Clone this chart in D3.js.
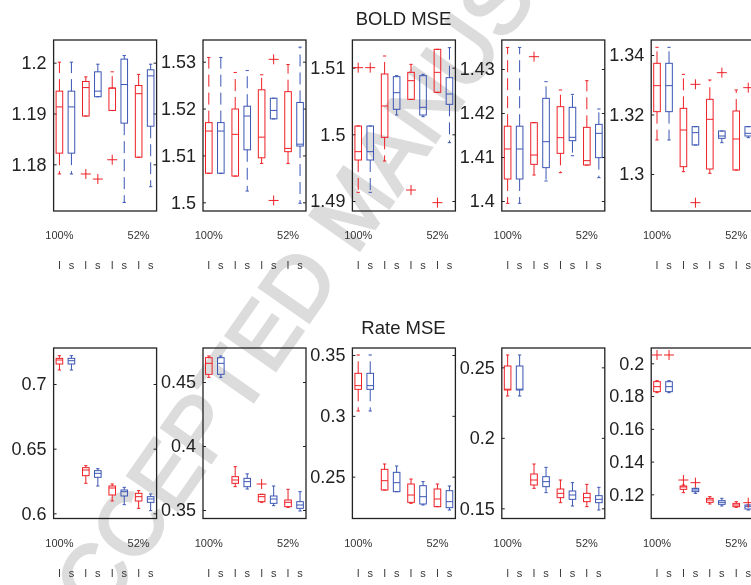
<!DOCTYPE html>
<html><head><meta charset="utf-8">
<script src="https://cdn.jsdelivr.net/npm/d3@7"></script>
<style>body{margin:0;background:#fff}svg{display:block;will-change:transform}</style>
</head><body>
<svg id="chart" width="751" height="585"></svg>
<script>
// ---------------- data ----------------
const groupLabels = ["l","s","l","s","l","s","l","s"];
const positions   = [1, 1.455, 2, 2.455, 3, 3.455, 4, 4.455];
const pctLabels   = [{text:"100%", box:0}, {text:"52%", box:6}];
const rowTitles   = ["BOLD MSE", "Rate MSE"];

const boldTicks = [[1.18,1.19,1.2],[1.5,1.51,1.52,1.53],[1.49,1.5,1.51],[1.4,1.41,1.42,1.43],[1.3,1.32,1.34]];
const rateTicks = [[0.6,0.65,0.7],[0.35,0.4,0.45],[0.25,0.3,0.35],[0.15,0.2,0.25],[0.12,0.14,0.16,0.18,0.2]];
const boldLimits = [[1.17082,1.20446],[1.49815,1.53462],[1.4885,1.51415],[1.39773,1.43659],[1.28756,1.34504]];
const rateLimits = [[0.596,0.72784],[0.34336,0.47656],[0.21562,0.35575],[0.14279,0.26371],[0.10524,0.20936]];

// each box: [lower whisker, q1, median, q3, upper whisker]
const boldBoxes1 = [[1.1781,1.1822,1.1913,1.1944,1.2001],[1.1781,1.1822,1.1913,1.1944,1.2001],[1.1895,1.1895,1.1951,1.1963,1.1972],[1.1933,1.1933,1.1944,1.1982,1.1997],[1.1906,1.1906,1.1950,1.1950,1.1982],[1.1725,1.1881,1.1957,1.2007,1.2014],[1.1814,1.1814,1.1939,1.1955,1.1977],[1.1756,1.1875,1.1974,1.1986,1.1997]];
const boldBoxes2 = [[1.5062,1.5062,1.5152,1.5170,1.5309],[1.5062,1.5062,1.5152,1.5170,1.5309],[1.5056,1.5056,1.5145,1.5199,1.5277],[1.5024,1.5112,1.5184,1.5205,1.5281],[1.5083,1.5095,1.5139,1.5240,1.5272],[1.5178,1.5178,1.5196,1.5222,1.5222],[1.5083,1.5108,1.5115,1.5236,1.5294],[1.4998,1.5120,1.5124,1.5213,1.5331]];
const boldBoxes3 = [[1.4913,1.49615,1.4974,1.50125,1.50125],[1.4913,1.49615,1.4974,1.50125,1.50125],[1.496,1.49955,1.50425,1.50905,1.51175],[1.5029,1.50375,1.50625,1.50865,1.5088],[1.50525,1.50525,1.50805,1.5093,1.5105],[1.50265,1.5029,1.50405,1.5088,1.509],[1.5063,1.5063,1.5093,1.51275,1.51275],[1.49875,1.5045,1.50605,1.5085,1.513]];
const boldBoxes4 = [[1.39947,1.405,1.41182,1.417,1.4349],[1.39947,1.405,1.41182,1.417,1.4349],[1.4059,1.40833,1.41045,1.4178,1.4178],[1.40455,1.40758,1.41348,1.42333,1.42712],[1.40644,1.41083,1.4144,1.42144,1.42523],[1.4103,1.41371,1.41447,1.42129,1.42424],[1.40818,1.40818,1.40917,1.41674,1.42735],[1.4053,1.40985,1.41538,1.41742,1.42091]];
const boldBoxes5 = [[1.31143,1.32095,1.32969,1.3372,1.34258],[1.31143,1.32095,1.32969,1.3372,1.34258],[1.30078,1.30246,1.31479,1.32207,1.3335],[1.30975,1.30975,1.31389,1.31591,1.31591],[1.30022,1.30168,1.31838,1.3251,1.3316],[1.31053,1.31199,1.31277,1.31445,1.31445],[1.30134,1.30134,1.31176,1.32118,1.32824],[1.3122,1.31277,1.31367,1.31591,1.31591]];

const rateBoxes1 = [[0.71082,0.71546,0.71856,0.71985,0.72191],[0.71082,0.71546,0.71804,0.71985,0.72191],[0.6232,0.62912,0.6335,0.63531,0.63686],[0.62113,0.62784,0.63093,0.63299,0.63454],[0.60954,0.61418,0.61958,0.62113,0.62268],[0.6067,0.6134,0.61675,0.61804,0.6201],[0.60387,0.60954,0.61289,0.61546,0.61753],[0.60206,0.6085,0.61108,0.61289,0.61495]];
const rateBoxes2 = [[0.45365,0.45599,0.46458,0.46901,0.47031],[0.45365,0.45599,0.46458,0.46901,0.47031],[0.36823,0.37083,0.37344,0.37604,0.38385],[0.3664,0.36823,0.37214,0.37474,0.37823],[0.356,0.3565,0.3604,0.36224,0.36224],[0.35339,0.35521,0.35859,0.36094,0.36875],[0.35208,0.3526,0.35599,0.35781,0.36615],[0.34922,0.3513,0.35391,0.35651,0.36432]];
const rateBoxes3 = [[0.30397,0.32178,0.32479,0.33493,0.35],[0.30397,0.32178,0.32479,0.33493,0.35],[0.23904,0.23904,0.24671,0.25603,0.26041],[0.23767,0.23767,0.24507,0.25356,0.25877],[0.22808,0.2289,0.23493,0.24397,0.24808],[0.22671,0.22753,0.23356,0.2426,0.24589],[0.22534,0.22534,0.23164,0.23986,0.24397],[0.2226,0.22452,0.22945,0.23849,0.24233]];
const rateBoxes4 = [[0.22967,0.23392,0.2345,0.25095,0.25875],[0.22967,0.23392,0.2345,0.25095,0.25875],[0.16418,0.16655,0.17009,0.17435,0.18144],[0.16111,0.16537,0.16891,0.17246,0.17908],[0.15402,0.15757,0.16064,0.16371,0.17009],[0.15165,0.15638,0.15946,0.16229,0.1682],[0.15118,0.15473,0.15757,0.16064,0.16702],[0.14882,0.15402,0.15638,0.15898,0.1649]];
const rateBoxes5 = [[0.18209,0.1827,0.18575,0.1888,0.18941],[0.18209,0.1827,0.18575,0.1888,0.18941],[0.12102,0.12305,0.1245,0.12509,0.1257],[0.12061,0.12163,0.12265,0.12366,0.12366],[0.1141,0.11511,0.11654,0.11756,0.11858],[0.11288,0.1139,0.11511,0.11613,0.11756],[0.11206,0.11247,0.11349,0.1145,0.11552],[0.11043,0.11104,0.11247,0.11349,0.11349]];

// outliers per box (drawn as red +)
const boldOutliers = [
  [[],[],[1.1781],[1.1771],[1.1809],[],[],[]],
  [[],[],[],[],[],[1.5305,1.5004],[],[]],
  [[1.51],[1.51],[],[],[1.49165],[],[1.48975],[]],
  [[],[],[1.4328],[],[],[],[],[]],
  [[],[],[],[1.33014,1.29036],[],[1.33406],[],[1.32902]]
];
const rateOutliers = [
  [[],[],[],[],[],[],[],[]],
  [[],[],[],[],[0.37031],[],[],[]],
  [[],[],[],[],[],[],[],[]],
  [[],[],[],[],[],[],[],[]],
  [[0.20509],[0.20509],[0.12875],[0.12712],[],[],[],[0.11491]]
];
const watermarkText = "ACCEPTED MANUSCRIPT";

// ---------------- drawing ----------------
const root = d3.select("#chart").append("g");
const FONT = "'Liberation Sans', Arial, Helvetica, sans-serif";
const colors = ["#ee2026", "#3b56b4"];
const outlierColor = "#ee2026";

// watermark (behind everything)
root.append("text")
  .attr("transform", "translate(378,224) rotate(-55)")
  .attr("text-anchor", "middle")
  .attr("font-family", FONT)
  .attr("font-size", 88)
  .attr("stroke", "#dcdcdc")
  .attr("stroke-width", 3)
  .attr("fill", "#dcdcdc")
  .text(watermarkText);

const panelLeft0 = 53.6, panelStep = 149.4, panelW = 103;
const rows = [
  {top: 40, bottom: 211, ticks: boldTicks, limits: boldLimits,
   boxes: [boldBoxes1, boldBoxes2, boldBoxes3, boldBoxes4, boldBoxes5], outliers: boldOutliers,
   titleY: 25, pctY: 239, lsY: 269},
  {top: 348, bottom: 518.5, ticks: rateTicks, limits: rateLimits,
   boxes: [rateBoxes1, rateBoxes2, rateBoxes3, rateBoxes4, rateBoxes5], outliers: rateOutliers,
   titleY: 334, pctY: 547, lsY: 577}
];

rows.forEach((row, r) => {
  root.append("text")
    .attr("x", 403.5).attr("y", row.titleY)
    .attr("text-anchor", "middle")
    .attr("font-family", FONT).attr("font-size", 18.5)
    .attr("fill", "#222")
    .text(rowTitles[r]);

  for (let p = 0; p < 5; p++) {
    const left = panelLeft0 + p * panelStep;
    const g = root.append("g").attr("transform", `translate(${left},0)`);
    const x = d3.scaleLinear().domain([0.78, 4.68]).range([0, panelW]);
    const y = d3.scaleLinear().domain(row.limits[p]).range([row.bottom, row.top]);
    const fmt = d => String(+d.toFixed(3));

    // axes
    const ax = g.append("g")
      .call(d3.axisLeft(y).tickValues(row.ticks[p]).tickSize(-3).tickPadding(7).tickFormat(fmt));
    ax.select(".domain").remove();
    ax.selectAll("line").attr("stroke", "#222");
    ax.selectAll("text").attr("font-family", FONT).attr("font-size", 18).attr("fill", "#222");
    const axr = g.append("g").attr("transform", `translate(${panelW},0)`)
      .call(d3.axisRight(y).tickValues(row.ticks[p]).tickSize(-3).tickFormat(""));
    axr.select(".domain").remove();
    axr.selectAll("line").attr("stroke", "#222");

    // boxes
    const bw = 6.6;
    row.boxes[p].forEach((s, i) => {
      const cx = x(positions[i]);
      const col = colors[i % 2];
      const [lo, q1, med, q3, hi] = s;
      const bg = g.append("g").attr("stroke", col).attr("fill", "none").attr("stroke-width", 1);
      if (hi > q3) bg.append("line").attr("x1", cx).attr("x2", cx).attr("y1", y(q3)).attr("y2", y(hi)).attr("stroke-dasharray", "12,6");
      if (lo < q1) bg.append("line").attr("x1", cx).attr("x2", cx).attr("y1", y(q1)).attr("y2", y(lo)).attr("stroke-dasharray", "12,6");
      bg.append("line").attr("x1", cx - bw/4).attr("x2", cx + bw/4).attr("y1", y(hi)).attr("y2", y(hi));
      bg.append("line").attr("x1", cx - bw/4).attr("x2", cx + bw/4).attr("y1", y(lo)).attr("y2", y(lo));
      bg.append("rect").attr("x", cx - bw/2).attr("width", bw)
        .attr("y", y(q3)).attr("height", Math.max(0.5, y(q1) - y(q3)));
      bg.append("line").attr("x1", cx - bw/2).attr("x2", cx + bw/2).attr("y1", y(med)).attr("y2", y(med));
      row.outliers[p][i].forEach(v => {
        const oy = y(v);
        g.append("path").attr("d", `M${cx-5},${oy}H${cx+5}M${cx},${oy-5}V${oy+5}`)
          .attr("stroke", outlierColor).attr("stroke-width", 1).attr("fill", "none");
      });
    });

    // frame
    g.append("rect").attr("x", 0).attr("y", row.top).attr("width", panelW).attr("height", row.bottom - row.top)
      .attr("fill", "none").attr("stroke", "#222").attr("stroke-width", 1.3);

    // group labels
    pctLabels.forEach(pl => {
      g.append("text").attr("x", x(positions[pl.box])).attr("y", row.pctY)
        .attr("text-anchor", "middle").attr("font-family", FONT).attr("font-size", 11).attr("fill", "#333")
        .text(pl.text);
    });
    groupLabels.forEach((t, i) => {
      g.append("text").attr("x", x(positions[i])).attr("y", row.lsY)
        .attr("text-anchor", "middle").attr("font-family", FONT).attr("font-size", 11).attr("fill", "#333")
        .text(t);
    });
  }
});
</script>
</body></html>
